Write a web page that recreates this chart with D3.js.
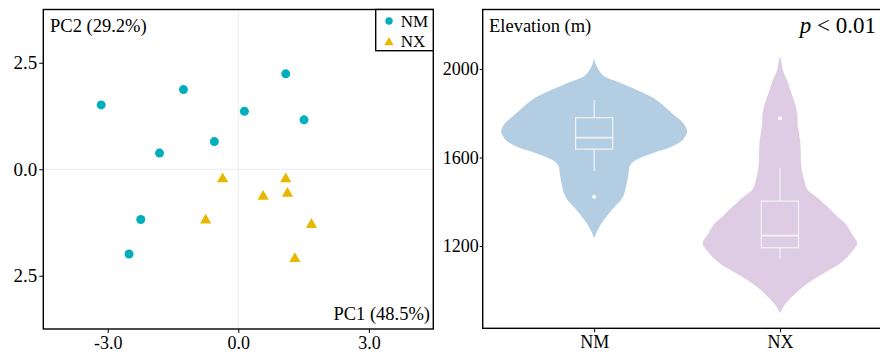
<!DOCTYPE html>
<html>
<head>
<meta charset="utf-8">
<script src="https://cdn.jsdelivr.net/npm/d3@7"></script>
<style>
    body { margin: 0; background: #fff; }
    svg { display: block; font-family: "Liberation Serif", "Times New Roman", serif; }
</style>
</head>
<body>
<div id="chart"></div>
<script>
// ---- data ----
// PCA scores (PC1, PC2)
var groups = ["NM", "NX"];
var pcaNM = [[-3.15, 1.51], [-1.26, 1.87], [1.09, 2.24], [0.14, 1.36], [1.51, 1.16],
             [-1.81, 0.38], [-0.55, 0.65], [-2.24, -1.18], [-2.51, -1.99]];
var pcaNX = [[-0.36, -0.23], [1.09, -0.23], [0.57, -0.64], [1.13, -0.57],
             [-0.75, -1.20], [1.68, -1.30], [1.30, -2.10]];
var pcaTicks = [-3, 0, 3];
var pcaYTicks = [-2.5, 0, 2.5];

// violin outlines: [elevation, relative density]
var violinNM = [[2048, 0], [2020, 0.02], [1995, 0.05], [1970, 0.10], [1935, 0.30], [1890, 0.54],
                [1860, 0.67], [1822, 0.78], [1784, 0.88], [1755, 0.96], [1717, 1.00], [1679, 0.95],
                [1649, 0.83], [1626, 0.67], [1604, 0.53], [1581, 0.42], [1558, 0.38], [1528, 0.37],
                [1483, 0.35], [1423, 0.31], [1363, 0.19], [1303, 0.08], [1265, 0.03], [1235, 0]];
var violinNX = [[2059, 0], [2030, 0.016], [1995, 0.03], [1935, 0.09], [1905, 0.11], [1860, 0.15],
                [1815, 0.18], [1784, 0.19], [1755, 0.19], [1664, 0.22], [1558, 0.23], [1483, 0.27],
                [1453, 0.30], [1423, 0.39], [1378, 0.51], [1332, 0.62], [1303, 0.70], [1257, 0.77],
                [1212, 0.83], [1167, 0.76], [1122, 0.65], [1084, 0.50], [1046, 0.35], [1009, 0.23],
                [971, 0.13], [933, 0.05], [896, 0]];
// box stats: [lower whisker, Q1, median, Q3, upper whisker]
var boxNM = [1539, 1638, 1690, 1780, 1860];
var boxNX = [1144, 1192, 1247, 1403, 1551];
var outlierNM = [1423];
var outlierNX = [1777];
var elevTicks = [1200, 1600, 2000];

// ---- look ----
var colPoint = {NM: "#00AFBB", NX: "#E7B800"};
var colViolin = {NM: "#B3CDE3", NX: "#DECBE4"};
var W = 880, H = 354;

var svg = d3.select("#chart").append("svg").attr("width", W).attr("height", H);

// 1. PCA panel
var pA = {left: 43.3, right: 433.3, top: 9.5, bottom: 329};
var xA = d3.scaleLinear().domain([-4.48, 4.48]).range([pA.left, pA.right]);
var yA = d3.scaleLinear().domain([-3.75, 3.75]).range([pA.bottom, pA.top]);

var gA = svg.append("g");
// zero lines
gA.append("line").attr("x1", xA(0)).attr("x2", xA(0)).attr("y1", pA.top).attr("y2", pA.bottom)
    .attr("stroke", "#ebebeb").attr("stroke-width", 1);
gA.append("line").attr("x1", pA.left).attr("x2", pA.right).attr("y1", yA(0)).attr("y2", yA(0))
    .attr("stroke", "#ebebeb").attr("stroke-width", 1);

var fmt1 = function (d) { return d3.format(".1f")(d).replace("\u2212", "-"); };

var axA_x = gA.append("g").attr("transform", "translate(0," + pA.bottom + ")")
    .call(d3.axisBottom(xA).tickValues(pcaTicks).tickFormat(fmt1).tickSize(4).tickPadding(3));
// left labels are cropped at the image edge in the original (clip in axis-local coords)
svg.append("clipPath").attr("id", "cropL").append("rect")
    .attr("x", 13 - pA.left).attr("y", 0).attr("width", W).attr("height", H);
var axA_y = gA.append("g").attr("transform", "translate(" + pA.left + ",0)")
    .attr("clip-path", "url(#cropL)")
    .call(d3.axisLeft(yA).tickValues(pcaYTicks).tickFormat(fmt1).tickSize(4).tickPadding(2));

[axA_x, axA_y].forEach(function (a) {
    a.select(".domain").remove();
    a.selectAll("line").attr("stroke", "#000").attr("stroke-width", 1);
    a.selectAll("text").attr("fill", "#000").style("font-size", "18px")
        .style("font-family", "'Liberation Serif', 'Times New Roman', serif");
});
axA_y.selectAll("text").style("font-size", "19px");

// points
gA.selectAll("circle.nm").data(pcaNM).enter().append("circle")
    .attr("cx", function (d) { return xA(d[0]); })
    .attr("cy", function (d) { return yA(d[1]); })
    .attr("r", 4.5).attr("fill", colPoint.NM);

var tri = d3.symbol().type(d3.symbolTriangle).size(55);
gA.selectAll("path.nx").data(pcaNX).enter().append("path")
    .attr("d", tri)
    .attr("transform", function (d) { return "translate(" + xA(d[0]) + "," + yA(d[1]) + ")"; })
    .attr("fill", colPoint.NX);

// frame
gA.append("rect").attr("x", pA.left).attr("y", pA.top)
    .attr("width", pA.right - pA.left).attr("height", pA.bottom - pA.top)
    .attr("fill", "none").attr("stroke", "#000").attr("stroke-width", 1.4);

gA.append("text").attr("x", 50).attr("y", 32).style("font-size", "18.5px").text("PC2 (29.2%)");
gA.append("text").attr("x", 430).attr("y", 320).attr("text-anchor", "end")
    .style("font-size", "18.5px").text("PC1 (48.5%)");

// legend
var lg = gA.append("g");
lg.append("rect").attr("x", 375.7).attr("y", pA.top).attr("width", pA.right - 375.7).attr("height", 41.2)
    .attr("fill", "#fff").attr("stroke", "#000").attr("stroke-width", 1.4);
lg.append("circle").attr("cx", 389).attr("cy", 21).attr("r", 3.7).attr("fill", colPoint.NM);
lg.append("path").attr("d", d3.symbol().type(d3.symbolTriangle).size(38))
    .attr("transform", "translate(389,42.5)").attr("fill", colPoint.NX);
lg.selectAll("text").data(groups).enter().append("text")
    .attr("x", 400.7).attr("y", function (d, i) { return 26.5 + i * 20; })
    .style("font-size", "17px").text(function (d) { return d; });

// 2. violin panel
var pB = {left: 482.7, right: 891.4, top: 9.5, bottom: 328.3};
var xB = d3.scalePoint().domain(groups).range([pB.left, pB.right]).padding(0.6);
var yB = d3.scaleLinear().domain([828, 2269]).range([pB.bottom, pB.top]);
var wB = d3.scaleLinear().domain([0, 1]).range([0, 93]);
var step = xB.step();

var gB = svg.append("g");

var violins = [
    {key: "NM", outline: violinNM, box: boxNM, out: outlierNM},
    {key: "NX", outline: violinNX, box: boxNX, out: outlierNX}
];

violins.forEach(function (v) {
    var cx = xB(v.key);
    var area = d3.area()
        .y(function (d) { return yB(d[0]); })
        .x0(function (d) { return cx - wB(d[1]); })
        .x1(function (d) { return cx + wB(d[1]); })
        .curve(d3.curveCatmullRom.alpha(0.5));
    gB.append("path").attr("d", area(v.outline)).attr("fill", colViolin[v.key]);

    var bw = step * 0.2, b = v.box;
    var bx = gB.append("g").attr("stroke", "#f4f4f4").attr("stroke-width", 1.2).attr("fill", "none");
    bx.append("line").attr("x1", cx).attr("x2", cx).attr("y1", yB(b[4])).attr("y2", yB(b[3]));
    bx.append("line").attr("x1", cx).attr("x2", cx).attr("y1", yB(b[1])).attr("y2", yB(b[0]));
    bx.append("rect").attr("x", cx - bw / 2).attr("width", bw)
        .attr("y", yB(b[3])).attr("height", yB(b[1]) - yB(b[3]));
    bx.append("line").attr("x1", cx - bw / 2).attr("x2", cx + bw / 2)
        .attr("y1", yB(b[2])).attr("y2", yB(b[2])).attr("stroke-width", 1.6);
    v.out.forEach(function (o) {
        gB.append("circle").attr("cx", cx).attr("cy", yB(o)).attr("r", 2).attr("fill", "#fff");
    });
});

var axB_x = gB.append("g").attr("transform", "translate(0," + pB.bottom + ")")
    .call(d3.axisBottom(xB).tickSize(4).tickPadding(3));
var axB_y = gB.append("g").attr("transform", "translate(" + pB.left + ",0)")
    .call(d3.axisLeft(yB).tickValues(elevTicks).tickFormat(d3.format("d")).tickSize(3).tickPadding(1));
[axB_x, axB_y].forEach(function (a) {
    a.select(".domain").remove();
    a.selectAll("line").attr("stroke", "#000").attr("stroke-width", 1);
    a.selectAll("text").attr("fill", "#000").style("font-size", "18px")
        .style("font-family", "'Liberation Serif', 'Times New Roman', serif");
});

gB.append("rect").attr("x", pB.left).attr("y", pB.top)
    .attr("width", pB.right - pB.left).attr("height", pB.bottom - pB.top)
    .attr("fill", "none").attr("stroke", "#000").attr("stroke-width", 1.4);

gB.append("text").attr("x", 489).attr("y", 31.5).style("font-size", "18.5px").text("Elevation (m)");
var pt = gB.append("text").attr("x", 876).attr("y", 33).attr("text-anchor", "end").style("font-size", "23px");
pt.append("tspan").style("font-style", "italic").text("p");
pt.append("tspan").text(" < 0.01");
</script>
</body>
</html>
